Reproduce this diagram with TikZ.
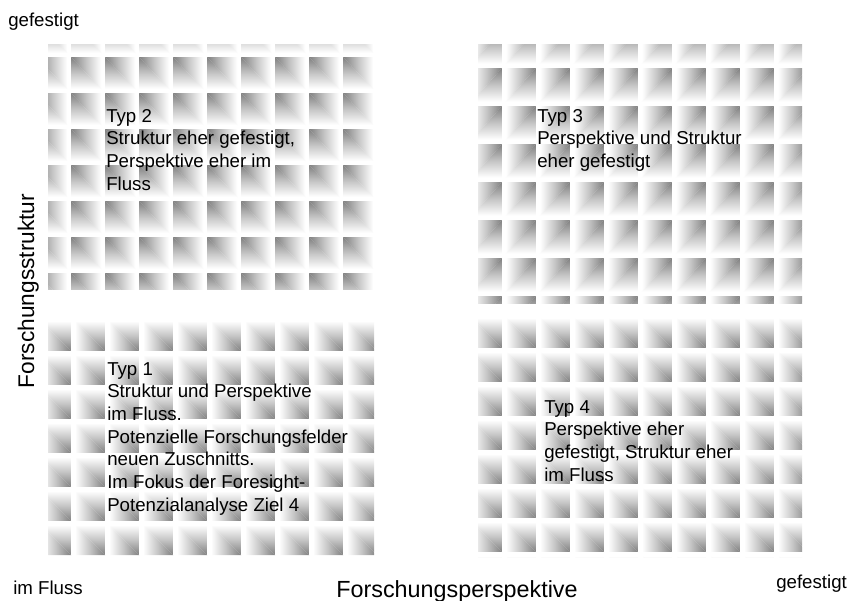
\documentclass[tikz,border=0pt]{standalone}
\usepackage{fontspec}
\setmainfont{Liberation Sans}
\usepackage{xcolor}

\colorlet{tiledark}{black!50}
% fade: white on the light side, dark at the top (shading angle 0)
\pgfdeclareverticalshading{tilefade}{100bp}{color(0bp)=(white); color(31bp)=(white);
  color(52bp)=(black!22); color(75bp)=(tiledark); color(100bp)=(tiledark)}

% one shaded tile, dark corner top left: x, y, width, height
\newcommand{\tileTL}[4]{%
  \shade[shading=tilefade, shading angle=90] (#1,#2) -- ++(#3,0) -- ++(0,#4) -- cycle;
  \shade[shading=tilefade, shading angle=0] (#1,#2) -- ++(0,#4) -- ++(#3,0) -- cycle;}
% dark corner top right
\newcommand{\tileTR}[4]{%
  \shade[shading=tilefade, shading angle=270] (#1,#2) -- ++(#3,0) -- ++(-#3,#4) -- cycle;
  \shade[shading=tilefade, shading angle=0] (#1+#3,#2) -- ++(0,#4) -- ++(-#3,0) -- cycle;}
% dark corner bottom right
\newcommand{\tileBR}[4]{%
  \shade[shading=tilefade, shading angle=180] (#1,#2) -- ++(#3,0) -- ++(0,#4) -- cycle;
  \shade[shading=tilefade, shading angle=270] (#1,#2) -- ++(0,#4) -- ++(#3,0) -- cycle;}

\begin{document}
\begin{tikzpicture}[x=0.75pt, y=-0.75pt,
    typtext/.style={font=\fontsize{14}{17}\selectfont, inner sep=0pt, align=left, anchor=north west},
    cornertext/.style={font=\fontsize{14}{17}\selectfont, inner sep=0pt, anchor=base west},
    axistext/.style={font=\fontsize{17.5}{20}\selectfont, inner sep=0pt}]

    \useasboundingbox (0,0) rectangle (855,600);

    % Typ 2 field (top left)
    \begin{scope}
        \clip (48,44) rectangle (374,289);
        \foreach \tx in {37,71,...,343}
            \foreach \ty in {21,57,...,273} {\tileTL{\tx}{\ty}{34}{36}}
    \end{scope}

    % Typ 3 field (top right)
    \begin{scope}
        \clip (478,44) rectangle (802,303);
        \foreach \tx in {468,502,...,808}
            \foreach \ty in {30,68,...,296} {\tileTR{\tx}{\ty}{34}{38}}
    \end{scope}

    % Typ 1 field (bottom left)
    \begin{scope}
        \clip (48,317) rectangle (374,557);
        \foreach \tx in {37,71,...,343}
            \foreach \ty in {317,351,...,551} {\tileBR{\tx}{\ty}{34}{34}}
    \end{scope}

    % Typ 4 field (bottom right)
    \begin{scope}
        \clip (478,317) rectangle (802,557);
        \foreach \tx in {468,502,...,808}
            \foreach \ty in {314,348,...,552} {\tileBR{\tx}{\ty}{34}{34}}
    \end{scope}

    % Field texts
    \node[typtext] (typ2) at (106,109) {Typ 2\\Struktur eher gefestigt,\\Perspektive eher im\\Fluss};
    \node[typtext] (typ3) at (537,109) {Typ 3\\Perspektive und Struktur\\eher gefestigt};
    \node[typtext] (typ1) at (107,362) {Typ 1\\Struktur und Perspektive\\im Fluss.\\Potenzielle Forschungsfelder\\neuen Zuschnitts.\\Im Fokus der Foresight-\\Potenzialanalyse Ziel 4};
    \node[typtext] (typ4) at (544,400) {Typ 4\\Perspektive eher\\gefestigt, Struktur eher\\im Fluss};

    % Axis ends
    \node[cornertext] (ytop) at (8,26) {gefestigt};
    \node[cornertext] (xleft) at (13,594) {im Fluss};
    \node[cornertext] (xright) at (776,588) {gefestigt};

    % Axis titles
    \node[axistext, anchor=base] (xtitle) at (457,597) {Forschungsperspektive};
    \node[axistext, font=\fontsize{17}{20}\selectfont, anchor=base, rotate=90] (ytitle) at (34,291) {Forschungsstruktur};

\end{tikzpicture}
\end{document}
